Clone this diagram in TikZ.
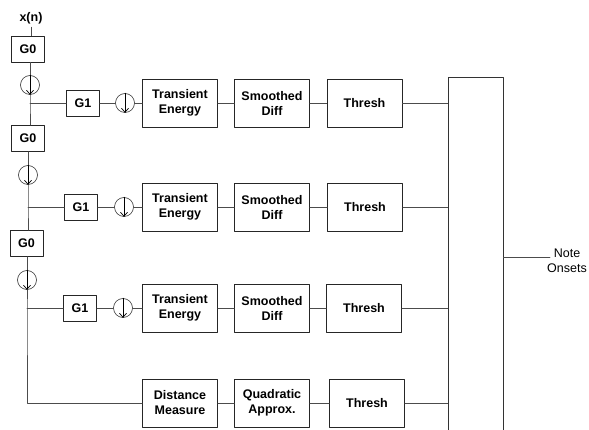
\documentclass[tikz,border=0pt]{standalone}
\usepackage{fontspec}
\setmainfont{Liberation Sans}
\usetikzlibrary{arrows.meta}

\tikzset{
  testo/.style={font=\bfseries\fontsize{12.5}{15}\selectfont},
  blocco/.style={testo, draw=black!85, line width=0.8pt, align=center, inner sep=0pt},
  bloccoG/.style={blocco, minimum width=33pt, minimum height=26pt},
  bloccoL/.style={blocco, minimum width=75pt, minimum height=48pt},
  decim/.style={draw=black!80, line width=0.6pt, circle, minimum size=19pt, inner sep=0pt},
  filo/.style={line width=0.8pt, draw=black!70},
}

\begin{document}
\begin{tikzpicture}[x=1pt, y=-1pt, >={Straight Barb[length=4pt,width=7pt]}, line cap=round, line join=round]

\useasboundingbox (0,0) rectangle (589,430);
\clip (0,0) rectangle (589,430);

% Ingresso
\node[testo] (xn) at (31,18) {x(n)};

% Ramo principale (G0 + decimatori)
\node[bloccoG] (G0a) at (28,49) {G0};
\node[decim] (da) at (30,85) {};
\coordinate (ja) at (30,103);
\node[bloccoG] (G0b) at (28,138.5) {G0};
\node[decim] (dc) at (28,175) {};
\coordinate (jb) at (28,207);
\node[bloccoG] (G0c) at (26.5,243.5) {G0};
\node[decim] (de) at (27,280) {};
\coordinate (jc) at (27,308);
\coordinate (jd) at (27,403);

% Banda 1
\node[bloccoG] (G1a) at (83,103) {G1};
\node[decim] (db) at (125,103) {};
\node[bloccoL] (TEa) at (180,103) {Transient\\Energy};
\node[bloccoL] (SDa) at (272,103) {Smoothed\\Diff};
\node[bloccoL] (THa) at (364.5,103) {Thresh};

% Banda 2
\node[bloccoG] (G1b) at (81,207) {G1};
\node[decim] (dd) at (124,207) {};
\node[bloccoL] (TEb) at (180,207) {Transient\\Energy};
\node[bloccoL] (SDb) at (272,207) {Smoothed\\Diff};
\node[bloccoL] (THb) at (365,207) {Thresh};

% Banda 3
\node[bloccoG] (G1c) at (80,308) {G1};
\node[decim] (df) at (123,308) {};
\node[bloccoL] (TEc) at (180,308) {Transient\\Energy};
\node[bloccoL] (SDc) at (272,308) {Smoothed\\Diff};
\node[bloccoL] (THc) at (364,308) {Thresh};

% Banda bassa
\node[bloccoL] (DM) at (180,403) {Distance\\Measure};
\node[bloccoL] (QA) at (272,403) {Quadratic\\Approx.};
\node[bloccoL] (THd) at (367,403) {Thresh};

% Combinazione
\node[draw=black!80, line width=0.8pt, minimum width=55pt, minimum height=360pt, inner sep=0pt] (somma) at (475.5,257) {};
\coordinate (onset) at (550,257);
\node[font=\fontsize{12.5}{15}\selectfont, align=center] (lab) at (567,261) {Note\\Onsets};

% Collegamenti ramo principale
\draw[filo] (xn.south) -- (xn.south |- G0a.north);
\draw[filo] (da.north |- G0a.south) -- (da.north);
\draw[filo] (da.south) -- (ja) -- (ja |- G0b.north);
\draw[filo] (dc.north |- G0b.south) -- (dc.north);
\draw[filo] (dc.south) -- (jb) -- (jb |- G0c.north);
\draw[filo] (de.north |- G0c.south) -- (de.north);
\draw[filo] (de.south) -- (jc) -- (jd) -- (DM.west);

% Collegamenti bande
\draw[filo] (ja) -- (G1a.west);
\draw[filo] (G1a.east) -- (db.west);
\draw[filo] (db.east) -- (TEa.west);
\draw[filo] (jb) -- (G1b.west);
\draw[filo] (G1b.east) -- (dd.west);
\draw[filo] (dd.east) -- (TEb.west);
\draw[filo] (jc) -- (G1c.west);
\draw[filo] (G1c.east) -- (df.west);
\draw[filo] (df.east) -- (TEc.west);

\foreach \r in {a,b,c} {
  \draw[filo] (TE\r.east) -- (SD\r.west);
  \draw[filo] (SD\r.east) -- (TH\r.west);
  \draw[filo] (TH\r.east) -- (TH\r.east -| somma.west);
}
\draw[filo] (DM.east) -- (QA.west);
\draw[filo] (QA.east) -- (THd.west);
\draw[filo] (THd.east) -- (THd.east -| somma.west);

% Uscita
\draw[filo] (somma.east |- onset) -- (onset);

% Frecce dei decimatori
\foreach \d in {da,db,dc,dd,de,df}
  \draw[line width=0.7pt, ->] (\d.north) -- (\d.south);

\end{tikzpicture}
\end{document}
